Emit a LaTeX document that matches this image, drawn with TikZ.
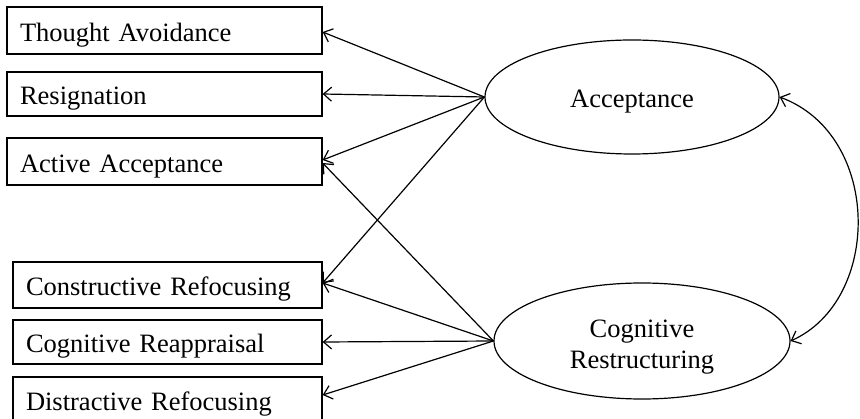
\documentclass[tikz,border=0pt]{standalone}
\usepackage{fontspec}
\setmainfont{Liberation Serif}
\usetikzlibrary{arrows.meta,shapes.geometric}
\begin{document}
\begin{tikzpicture}[x=1pt,y=-1pt,
  txt/.style={font=\fontsize{26.5}{31}\selectfont},
  box/.style={txt,draw,line width=1.3pt,rectangle,inner xsep=13pt,inner ysep=0pt,
    text height=22pt,text depth=0pt,align=left},
  lat/.style={txt,draw,ellipse,line width=1.2pt,inner sep=0pt,align=center},
  arr/.style={-{Straight Barb[length=8pt,width=14pt]},line width=1.2pt},
  dbl/.style={{Straight Barb[length=8pt,width=14pt]}-{Straight Barb[length=8pt,width=14pt]},line width=1.2pt}]
\useasboundingbox (0,0) rectangle (860,419);
\node[box,text width=289pt,minimum height=47pt] (b1) at (164.5,30.5) {Thought Avoidance};
\node[box,text width=289pt,minimum height=44pt] (b2) at (164.5,94) {Resignation};
\node[box,text width=289pt,minimum height=47pt] (b3) at (164.5,161.5) {Active Acceptance};
\node[box,text width=283pt,minimum height=46pt] (b4) at (167.5,285) {Constructive Refocusing};
\node[box,text width=283pt,minimum height=44pt] (b5) at (167.5,342) {Cognitive Reappraisal};
\node[box,text width=283pt,minimum height=45pt] (b6) at (167.5,399.5) {Distractive Refocusing};
\node[lat,minimum width=294pt,minimum height=114pt,text height=22pt,text depth=0pt] (acc) at (632,97) {Acceptance};
\node[lat,minimum width=296pt,minimum height=116pt] (cr) at (642,341) {\rule{0pt}{30pt}Cognitive\\Restructuring};
\draw[arr] (acc.west) -- ([yshift=-1.5pt]b1.east);
\draw[arr] (acc.west) -- (b2.east);
\draw[arr] (acc.west) -- ([yshift=1.5pt]b3.east);
\draw[arr] (acc.west) -- ([yshift=2pt]b4.east);
\draw[arr] (cr.west) -- ([yshift=-1.5pt]b3.east);
\draw[arr] (cr.west) -- ([yshift=2pt]b4.east);
\draw[arr] (cr.west) -- (b5.east);
\draw[arr] (cr.west) -- ([yshift=4.5pt]b6.east);
\draw[dbl] (acc.east) .. controls (882,135) and (882,300) .. (cr.east);
\end{tikzpicture}
\end{document}
